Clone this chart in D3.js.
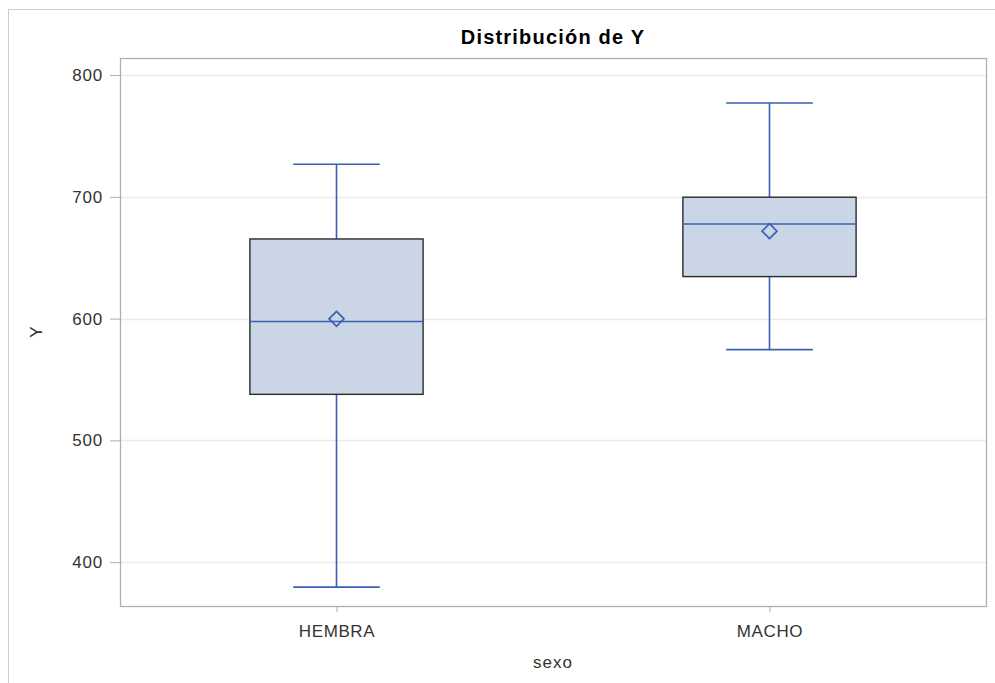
<!DOCTYPE html>
<html>
<head>
<meta charset="utf-8">
<script src="https://cdn.jsdelivr.net/npm/d3@7"></script>
<style>
  body { margin: 0; background: #fff; }
  text { font-family: "Liberation Sans", Arial, sans-serif; }
</style>
</head>
<body>
<div id="chart"></div>
<script>
// data
var categories = ["HEMBRA", "MACHO"];
var minVals    = [379.5, 574.5];
var q1Vals     = [537.8, 634.5];
var medianVals = [597.6, 677.7];
var q3Vals     = [665.4, 699.7];
var maxVals    = [726.8, 777.0];
var meanVals   = [599.8, 671.8];
var yTicks     = [400, 500, 600, 700, 800];

var width = 995, height = 683;
var margin = { top: 58, right: 9, bottom: 77, left: 120 };
var innerW = width - margin.left - margin.right;
var innerH = height - margin.top - margin.bottom;

var boxes = categories.map(function(c, i) {
    return { cat: c, min: minVals[i], q1: q1Vals[i], med: medianVals[i],
             q3: q3Vals[i], max: maxVals[i], mean: meanVals[i] };
});

var svg = d3.select("#chart").append("svg")
    .attr("width", width)
    .attr("height", height);

// outer frame
svg.append("rect")
    .attr("x", 8.5).attr("y", 9.5)
    .attr("width", width).attr("height", height)
    .attr("fill", "none")
    .attr("stroke", "#cfcfcf");

svg.append("text")
    .attr("x", margin.left + innerW / 2)
    .attr("y", 44)
    .attr("text-anchor", "middle")
    .style("font-size", "20px")
    .style("font-weight", "bold")
    .style("letter-spacing", "1.2px")
    .style("fill", "#000")
    .text("Distribución de Y");

var g = svg.append("g")
    .attr("transform", "translate(" + margin.left + "," + margin.top + ")");

var y = d3.scaleLinear().domain([364, 814]).range([innerH, 0]);
var x = d3.scalePoint().domain(categories).range([0, innerW]).padding(0.5);
var step = x.step();

// grid
g.selectAll(".grid")
    .data(yTicks)
    .enter().append("line")
    .attr("x1", 0).attr("x2", innerW)
    .attr("y1", function(d) { return Math.round(y(d)) + 0.5; })
    .attr("y2", function(d) { return Math.round(y(d)) + 0.5; })
    .attr("stroke", "#ebebeb")
    .attr("stroke-width", 1.5);

// y axis
var yAxis = g.append("g")
    .call(d3.axisLeft(y).tickValues(yTicks).tickSize(10).tickPadding(7));
yAxis.select(".domain").remove();
yAxis.selectAll("line").attr("stroke", "#aab0b5");
yAxis.selectAll("text").style("font-size", "17px").style("letter-spacing", "0.8px").style("fill", "#333");

// x axis
var xAxis = g.append("g")
    .attr("transform", "translate(0," + innerH + ")")
    .call(d3.axisBottom(x).tickSize(6).tickPadding(13));
xAxis.select(".domain").remove();
xAxis.selectAll("line").attr("stroke", "#aab0b5");
xAxis.selectAll("text").style("font-size", "17px").style("letter-spacing", "0.6px").style("fill", "#333");

// plot frame
g.append("rect")
    .attr("x", 0.5).attr("y", 0.5)
    .attr("width", innerW).attr("height", innerH)
    .attr("fill", "none")
    .attr("stroke", "#aab0b5")
    .attr("stroke-width", 1.3);

svg.append("text")
    .attr("transform", "translate(42," + (margin.top + innerH / 2) + ") rotate(-90)")
    .attr("text-anchor", "middle")
    .style("font-size", "17px")
    .style("fill", "#333")
    .text("Y");

svg.append("text")
    .attr("x", margin.left + innerW / 2)
    .attr("y", 668)
    .attr("text-anchor", "middle")
    .style("font-size", "17px")
    .style("letter-spacing", "1px")
    .style("fill", "#333")
    .text("sexo");

var blue = "#3a5fb5";
var boxW = step * 0.4, capW = step * 0.2;

var bg = g.selectAll(".box")
    .data(boxes)
    .enter().append("g")
    .attr("transform", function(d) { return "translate(" + x(d.cat) + ",0)"; });

// whiskers
bg.append("line")
    .attr("x1", 0).attr("x2", 0)
    .attr("y1", function(d) { return y(d.max); })
    .attr("y2", function(d) { return y(d.q3); })
    .attr("stroke", blue).attr("stroke-width", 1.6);
bg.append("line")
    .attr("x1", 0).attr("x2", 0)
    .attr("y1", function(d) { return y(d.q1); })
    .attr("y2", function(d) { return y(d.min); })
    .attr("stroke", blue).attr("stroke-width", 1.6);
bg.append("line")
    .attr("x1", -capW / 2).attr("x2", capW / 2)
    .attr("y1", function(d) { return y(d.max); })
    .attr("y2", function(d) { return y(d.max); })
    .attr("stroke", blue).attr("stroke-width", 1.6);
bg.append("line")
    .attr("x1", -capW / 2).attr("x2", capW / 2)
    .attr("y1", function(d) { return y(d.min); })
    .attr("y2", function(d) { return y(d.min); })
    .attr("stroke", blue).attr("stroke-width", 1.6);

// box
bg.append("rect")
    .attr("x", -boxW / 2)
    .attr("width", boxW)
    .attr("y", function(d) { return y(d.q3); })
    .attr("height", function(d) { return y(d.q1) - y(d.q3); })
    .attr("fill", "#cad5e5")
    .attr("stroke", "#2b2b2b")
    .attr("stroke-width", 1.4);

// median
bg.append("line")
    .attr("x1", -boxW / 2).attr("x2", boxW / 2)
    .attr("y1", function(d) { return y(d.med); })
    .attr("y2", function(d) { return y(d.med); })
    .attr("stroke", blue).attr("stroke-width", 1.6);

// mean diamond
bg.append("path")
    .attr("d", "M0,-7.5L7.5,0L0,7.5L-7.5,0Z")
    .attr("transform", function(d) { return "translate(0," + y(d.mean) + ")"; })
    .attr("fill", "none")
    .attr("stroke", blue)
    .attr("stroke-width", 1.7);
</script>
</body>
</html>
